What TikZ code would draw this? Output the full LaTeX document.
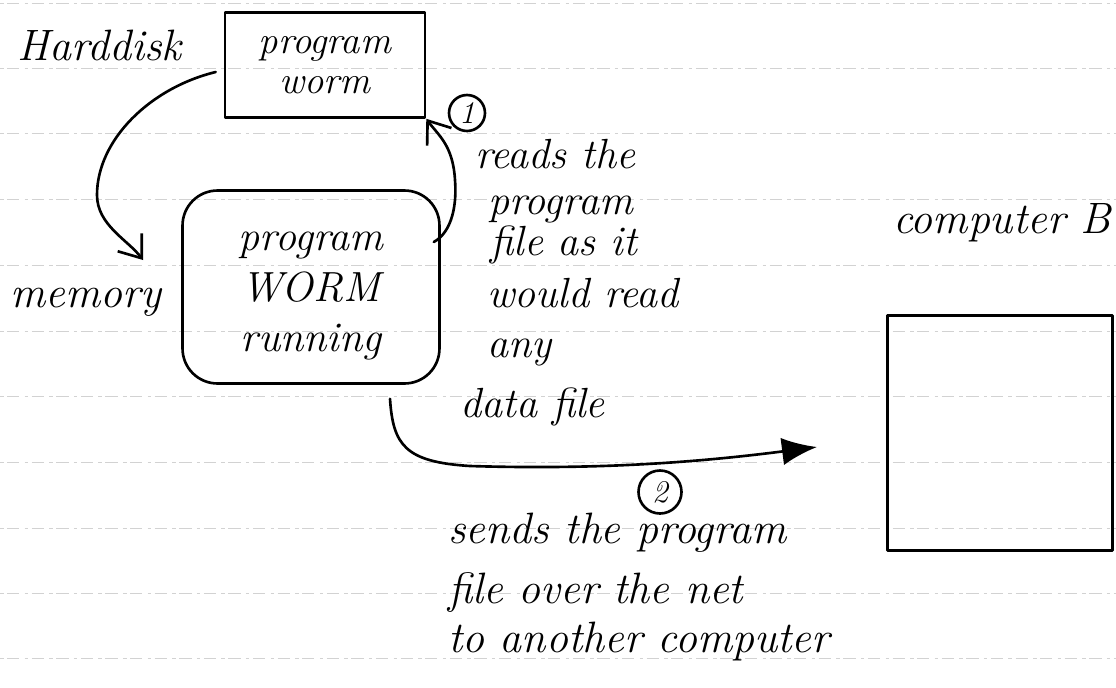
\documentclass[tikz,border=0pt]{standalone}
\usetikzlibrary{arrows.meta,calc}
\begin{document}
\begin{tikzpicture}[x=0.02cm,y=-0.02cm,
  hand/.style={font=\fontsize{25}{30}\selectfont\itshape, inner sep=0pt},
  ink/.style={line width=1.5pt, line cap=round, line join=round},
  rule/.style={gray!35, line width=0.4pt, dash pattern=on 2pt off 2pt on 7pt off 3pt},
  diskbox/.style={ink, draw, rectangle, minimum width=4cm, minimum height=2.1cm, align=center, inner sep=0pt,
    font=\fontsize{22}{23}\selectfont\itshape},
  membox/.style={ink, draw, rectangle, rounded corners=0.7cm, minimum width=5.14cm, minimum height=3.86cm},
  boxtext/.style={align=center, inner sep=0pt, font=\fontsize{24}{29}\selectfont\itshape},
  compbox/.style={ink, draw, rectangle, minimum width=4.5cm, minimum height=4.7cm},
  openhead/.style={-{Straight Barb[length=0.4cm,width=0.6cm]}},
  filledhead/.style={-{Latex[length=0.7cm,width=0.55cm]}},
  numcircle/.style={ink, draw, circle, inner sep=0pt, font=\fontsize{18}{18}\selectfont\itshape}
]
\useasboundingbox (0,0) rectangle (1116,687);
\fill[white] (0,0) rectangle (1116,687);
% ruled paper
\foreach \yy in {3,68,133,199,265,331,396,462,528,593,658}
  \draw[rule] (0,\yy) -- (1116,\yy);

% boxes
\node[diskbox] (b1) at (325,65) {program\\worm};
\node[membox] (b2) at (311,287) {};
\node[boxtext] (b2t) at (311,296) {program\\WORM\\running};
\node[compbox] (b3) at (1000,433) {};

% labels
\node[hand, anchor=base west] (hd) at (17,60) {Harddisk};
\node[hand, anchor=base west] (mem) at (10,307) {memory};
\node[hand, anchor=base west] (cb) at (893,233) {computer B};

\begin{scope}[every node/.style={hand, anchor=base west, font=\fontsize{24}{28}\selectfont\itshape}]
\node (r1) at (475,168) {reads the};
\node (r2) at (488,214) {program};
\node (r3) at (490,255) {file as it};
\node (r4) at (487,307) {would read};
\node (r5) at (487,357) {any};
\node (r6) at (460,417) {data file};
\end{scope}

\node[hand, anchor=base west] (s1) at (448,543) {sends the program};
\node[hand, anchor=base west] (s2) at (448,603) {file over the net};
\node[hand, anchor=base west] (s3) at (448,652) {to another computer};

\node[numcircle, minimum size=0.72cm] (n1) at (467,113) {1};
\node[numcircle, minimum size=0.86cm] (n2) at (660,492) {2};

% connectors
\coordinate (memTip) at (143,260);
\coordinate (sendTip) at (817,447);

\draw[ink, openhead] ($(b1.west)+(-8,7)$) .. controls (150,88) and (97,140) .. (97,195)
  .. controls (97,225) and (128,240) .. (memTip);

\draw[ink, openhead] ($(b2.east)+(-7,-45)$) .. controls (452,232) and (457,205) .. (455,180)
  .. controls (453,145) and (438,135) .. (b1.south east);

\draw[ink, filledhead] ($(b2.south)+(79,14)$) .. controls (393,445) and (405,462) .. (470,466)
  .. controls (600,470) and (700,462) .. (sendTip);
\end{tikzpicture}
\end{document}
